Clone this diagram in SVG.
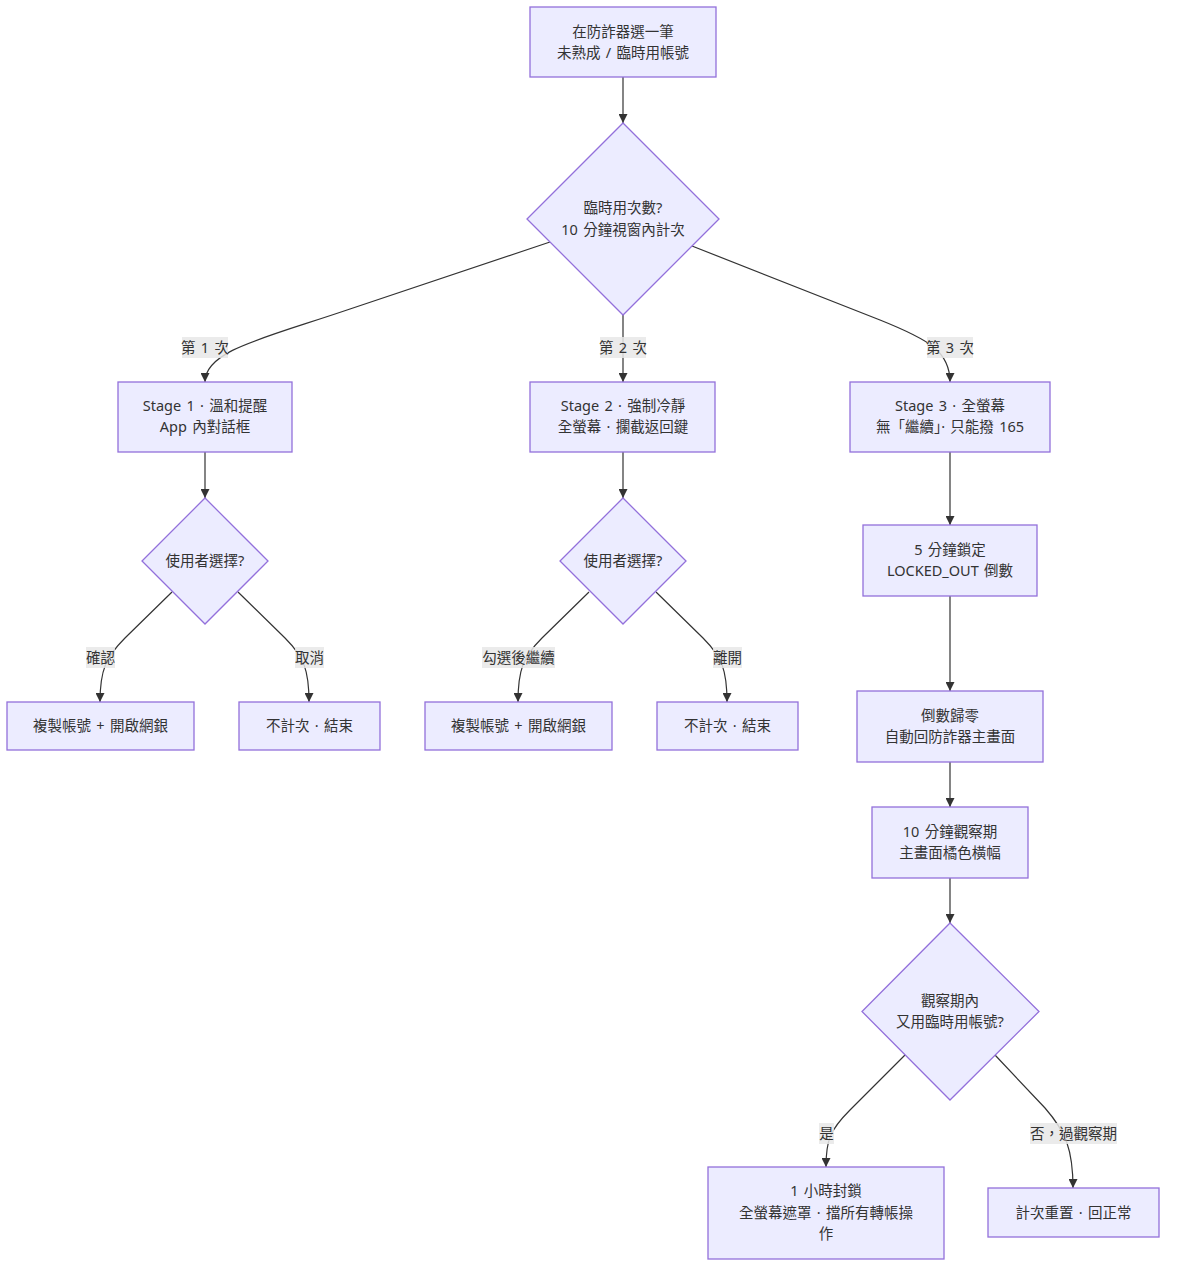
<svg xmlns="http://www.w3.org/2000/svg" width="1178" height="1280" viewBox="0 0 1178 1280">
<style>
  .node rect, .node polygon { fill: #ECECFF; stroke: #9370DB; stroke-width: 1.3; }
  text { font-family: "Noto Sans", "Noto Sans CJK TC", sans-serif; font-size: 14.5px; fill: #333; text-anchor: middle; dominant-baseline: central; word-spacing: 1.5px; }
  .edge path { fill: none; stroke: #333; stroke-width: 1.2; }
  .elabel rect { fill: #e8e8e8; fill-opacity: 0.85; }
</style>
<defs>
  <marker id="arr" viewBox="0 0 10 10" refX="10" refY="5" markerWidth="9" markerHeight="9" markerUnits="userSpaceOnUse" orient="auto">
    <path d="M0,0 L10,5 L0,10 z" fill="#333"/>
  </marker>
</defs>
<rect width="1178" height="1280" fill="#fff"/>

<g id="connectors">
  <g class="edge">
    <path d="M623,77 L623,123" marker-end="url(#arr)"/>
    <path d="M550,242 L350,309 C265,338 205,350 205,382" marker-end="url(#arr)"/>
    <path d="M623,315 L623,382" marker-end="url(#arr)"/>
    <path d="M692,246 L880,320 C930,340 950,352 950,382" marker-end="url(#arr)"/>
    <path d="M205,452 L205,498" marker-end="url(#arr)"/>
    <path d="M623,452 L623,498" marker-end="url(#arr)"/>
    <path d="M172,592 L125,638 C106,657 100,670 100,702" marker-end="url(#arr)"/>
    <path d="M238,592 L285,638 C304,657 309,670 309,702" marker-end="url(#arr)"/>
    <path d="M589,592 L542,638 C523,657 518,670 518,702" marker-end="url(#arr)"/>
    <path d="M656,592 L703,638 C722,657 727,670 727,702" marker-end="url(#arr)"/>
    <path d="M950,452 L950,525" marker-end="url(#arr)"/>
    <path d="M950,596 L950,691" marker-end="url(#arr)"/>
    <path d="M950,762 L950,807" marker-end="url(#arr)"/>
    <path d="M950,878 L950,923" marker-end="url(#arr)"/>
    <path d="M905,1055 L850,1110 C830,1130 826,1140 826,1167" marker-end="url(#arr)"/>
    <path d="M995,1055 L1045,1108 C1066,1132 1073,1150 1073,1188" marker-end="url(#arr)"/>
  </g>
  <g class="elabel">
    <rect x="182" y="337" width="46" height="21"/><text x="205" y="346.5">第 1 次</text>
    <rect x="600" y="337" width="46" height="21"/><text x="623" y="346.5">第 2 次</text>
    <rect x="927" y="337" width="46" height="21"/><text x="950" y="346.5">第 3 次</text>
    <rect x="86" y="647" width="29" height="21"/><text x="100.5" y="656.5">確認</text>
    <rect x="295" y="647" width="29" height="21"/><text x="309.5" y="656.5">取消</text>
    <rect x="482" y="647" width="73" height="21"/><text x="518.5" y="656.5">勾選後繼續</text>
    <rect x="713" y="647" width="29" height="21"/><text x="727.5" y="656.5">離開</text>
    <rect x="819" y="1123" width="15" height="21"/><text x="826.5" y="1132.5">是</text>
    <rect x="1030" y="1123" width="87" height="21"/><text x="1073.5" y="1132.5">否，過觀察期</text>
  </g>
</g>

<g id="start" class="node">
  <rect x="530" y="7" width="186" height="70"/>
  <text x="623" y="30.5">在防詐器選一筆</text>
  <text x="623" y="51.5">未熟成 / 臨時用帳號</text>
</g>
<g id="count" class="node">
  <polygon points="623,123 719,219 623,315 527,219"/>
  <text x="623" y="207">臨時用次數?</text>
  <text x="623" y="228.5">10 分鐘視窗內計次</text>
</g>
<g id="stage1" class="node">
  <rect x="118" y="382" width="174" height="70"/>
  <text x="205" y="405">Stage 1 · 溫和提醒</text>
  <text x="205" y="426">App 內對話框</text>
</g>
<g id="stage2" class="node">
  <rect x="530" y="382" width="185" height="70"/>
  <text x="623" y="405">Stage 2 · 強制冷靜</text>
  <text x="623" y="426">全螢幕 · 攔截返回鍵</text>
</g>
<g id="stage3" class="node">
  <rect x="850" y="382" width="200" height="70"/>
  <text x="950" y="405">Stage 3 · 全螢幕</text>
  <text x="950" y="426">無「繼續」· 只能撥 165</text>
</g>
<g id="choice1" class="node">
  <polygon points="205,498 268,561 205,624 142,561"/>
  <text x="205" y="560">使用者選擇?</text>
</g>
<g id="choice2" class="node">
  <polygon points="623,498 686,561 623,624 560,561"/>
  <text x="623" y="560">使用者選擇?</text>
</g>
<g id="copy1" class="node">
  <rect x="7" y="702" width="187" height="48"/>
  <text x="100.5" y="725">複製帳號 + 開啟網銀</text>
</g>
<g id="end1" class="node">
  <rect x="239" y="702" width="141" height="48"/>
  <text x="309.5" y="725">不計次 · 結束</text>
</g>
<g id="copy2" class="node">
  <rect x="425" y="702" width="187" height="48"/>
  <text x="518.5" y="725">複製帳號 + 開啟網銀</text>
</g>
<g id="end2" class="node">
  <rect x="657" y="702" width="141" height="48"/>
  <text x="727.5" y="725">不計次 · 結束</text>
</g>
<g id="lock5" class="node">
  <rect x="863" y="525" width="174" height="71"/>
  <text x="950" y="548.5">5 分鐘鎖定</text>
  <text x="950" y="569.5">LOCKED_OUT 倒數</text>
</g>
<g id="countdown" class="node">
  <rect x="857" y="691" width="186" height="71"/>
  <text x="950" y="714.5">倒數歸零</text>
  <text x="950" y="735.5">自動回防詐器主畫面</text>
</g>
<g id="observe" class="node">
  <rect x="872" y="807" width="156" height="71"/>
  <text x="950" y="830.5">10 分鐘觀察期</text>
  <text x="950" y="851.5">主畫面橘色橫幅</text>
</g>
<g id="again" class="node">
  <polygon points="950,923 1039,1011.5 950,1100 862,1011.5"/>
  <text x="950" y="999.5">觀察期內</text>
  <text x="950" y="1021">又用臨時用帳號?</text>
</g>
<g id="block1h" class="node">
  <rect x="708" y="1167" width="236" height="92"/>
  <text x="826" y="1190">1 小時封鎖</text>
  <text x="826" y="1211.5">全螢幕遮罩 · 擋所有轉帳操</text>
  <text x="826" y="1233">作</text>
</g>
<g id="reset" class="node">
  <rect x="988" y="1188" width="171" height="49"/>
  <text x="1073.5" y="1211.5">計次重置 · 回正常</text>
</g>
</svg>
